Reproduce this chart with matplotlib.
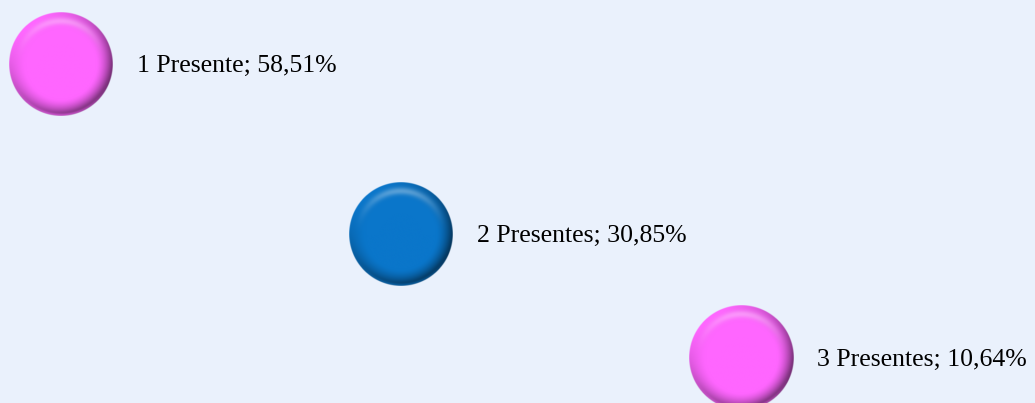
import numpy as np
import matplotlib.pyplot as plt

categorias = ["1 Presente", "2 Presentes", "3 Presentes"]
posiciones = [1, 2, 3]
porcentajes = [58.51, 30.85, 10.64]
colores = ["#FF66FF", "#0A76CA", "#FF66FF"]
etiquetas = ["1 Presente; 58,51%", "2 Presentes; 30,85%", "3 Presentes; 10,64%"]

fondo = "#EAF1FC"
radio_px = 52


def bola(color, n=220):
    # shaded "3D" bubble as an RGBA image
    base = np.array(plt.matplotlib.colors.to_rgb(color))
    v = np.linspace(-1, 1, n)
    xx, yy = np.meshgrid(v, -v)  # yy up
    r = np.sqrt(xx**2 + yy**2)
    img = np.tile(base, (n, n, 1))

    # dark rim, stronger bottom right
    lado = 0.5 + 0.5 * np.clip((-yy + 0.8 * xx) / 1.2, -1, 1)
    sombra = np.clip((r - 0.68) / 0.30, 0, 1) ** 1.5 * lado
    img = img * (1 - 0.6 * sombra[..., None])

    # light reflection at the very bottom edge
    refl = np.exp(-((r - 0.985) / 0.03) ** 2) * np.clip(-yy, 0, 1) ** 2
    img = img + (base - img) * 0.6 * refl[..., None]

    # soft top highlight ring
    brillo = np.exp(-((r - 0.83) / 0.07) ** 2) * np.clip(yy / np.maximum(r, 1e-6), 0, 1) ** 2
    img = img + (1 - img) * 0.32 * brillo[..., None]

    alfa = np.clip((1 - r) * n / 2 + 0.5, 0, 1)
    return np.dstack([np.clip(img, 0, 1), alfa])


fig = plt.figure(figsize=(10.35, 4.03), dpi=100, facecolor=fondo)
ax = fig.add_axes([0, 0, 1, 1])
ax.set_facecolor(fondo)
ax.set_xlim(0.8206, 3.865)
ax.set_ylim(3.30, 68.93)
ax.axis("off")

# bubble size in data units from the pixel radius
inv = ax.transData.inverted()
p0 = inv.transform((0, 0))
p1 = inv.transform((radio_px, radio_px))
rx, ry = p1 - p0

for x, y, c, txt in zip(posiciones, porcentajes, colores, etiquetas):
    ax.imshow(bola(c), extent=[x - rx, x + rx, y - ry, y + ry],
              aspect="auto", interpolation="bilinear", zorder=2)
    ax.annotate(txt, (x, y), xytext=(54.5, -1.5), textcoords="offset points",
                va="center", ha="left", fontsize=18.5,
                family=["Liberation Serif", "DejaVu Serif"], color="black")

ax.set_xlim(0.8206, 3.865)
ax.set_ylim(3.30, 68.93)
fig.savefig("out.png", dpi=100, facecolor=fondo)
